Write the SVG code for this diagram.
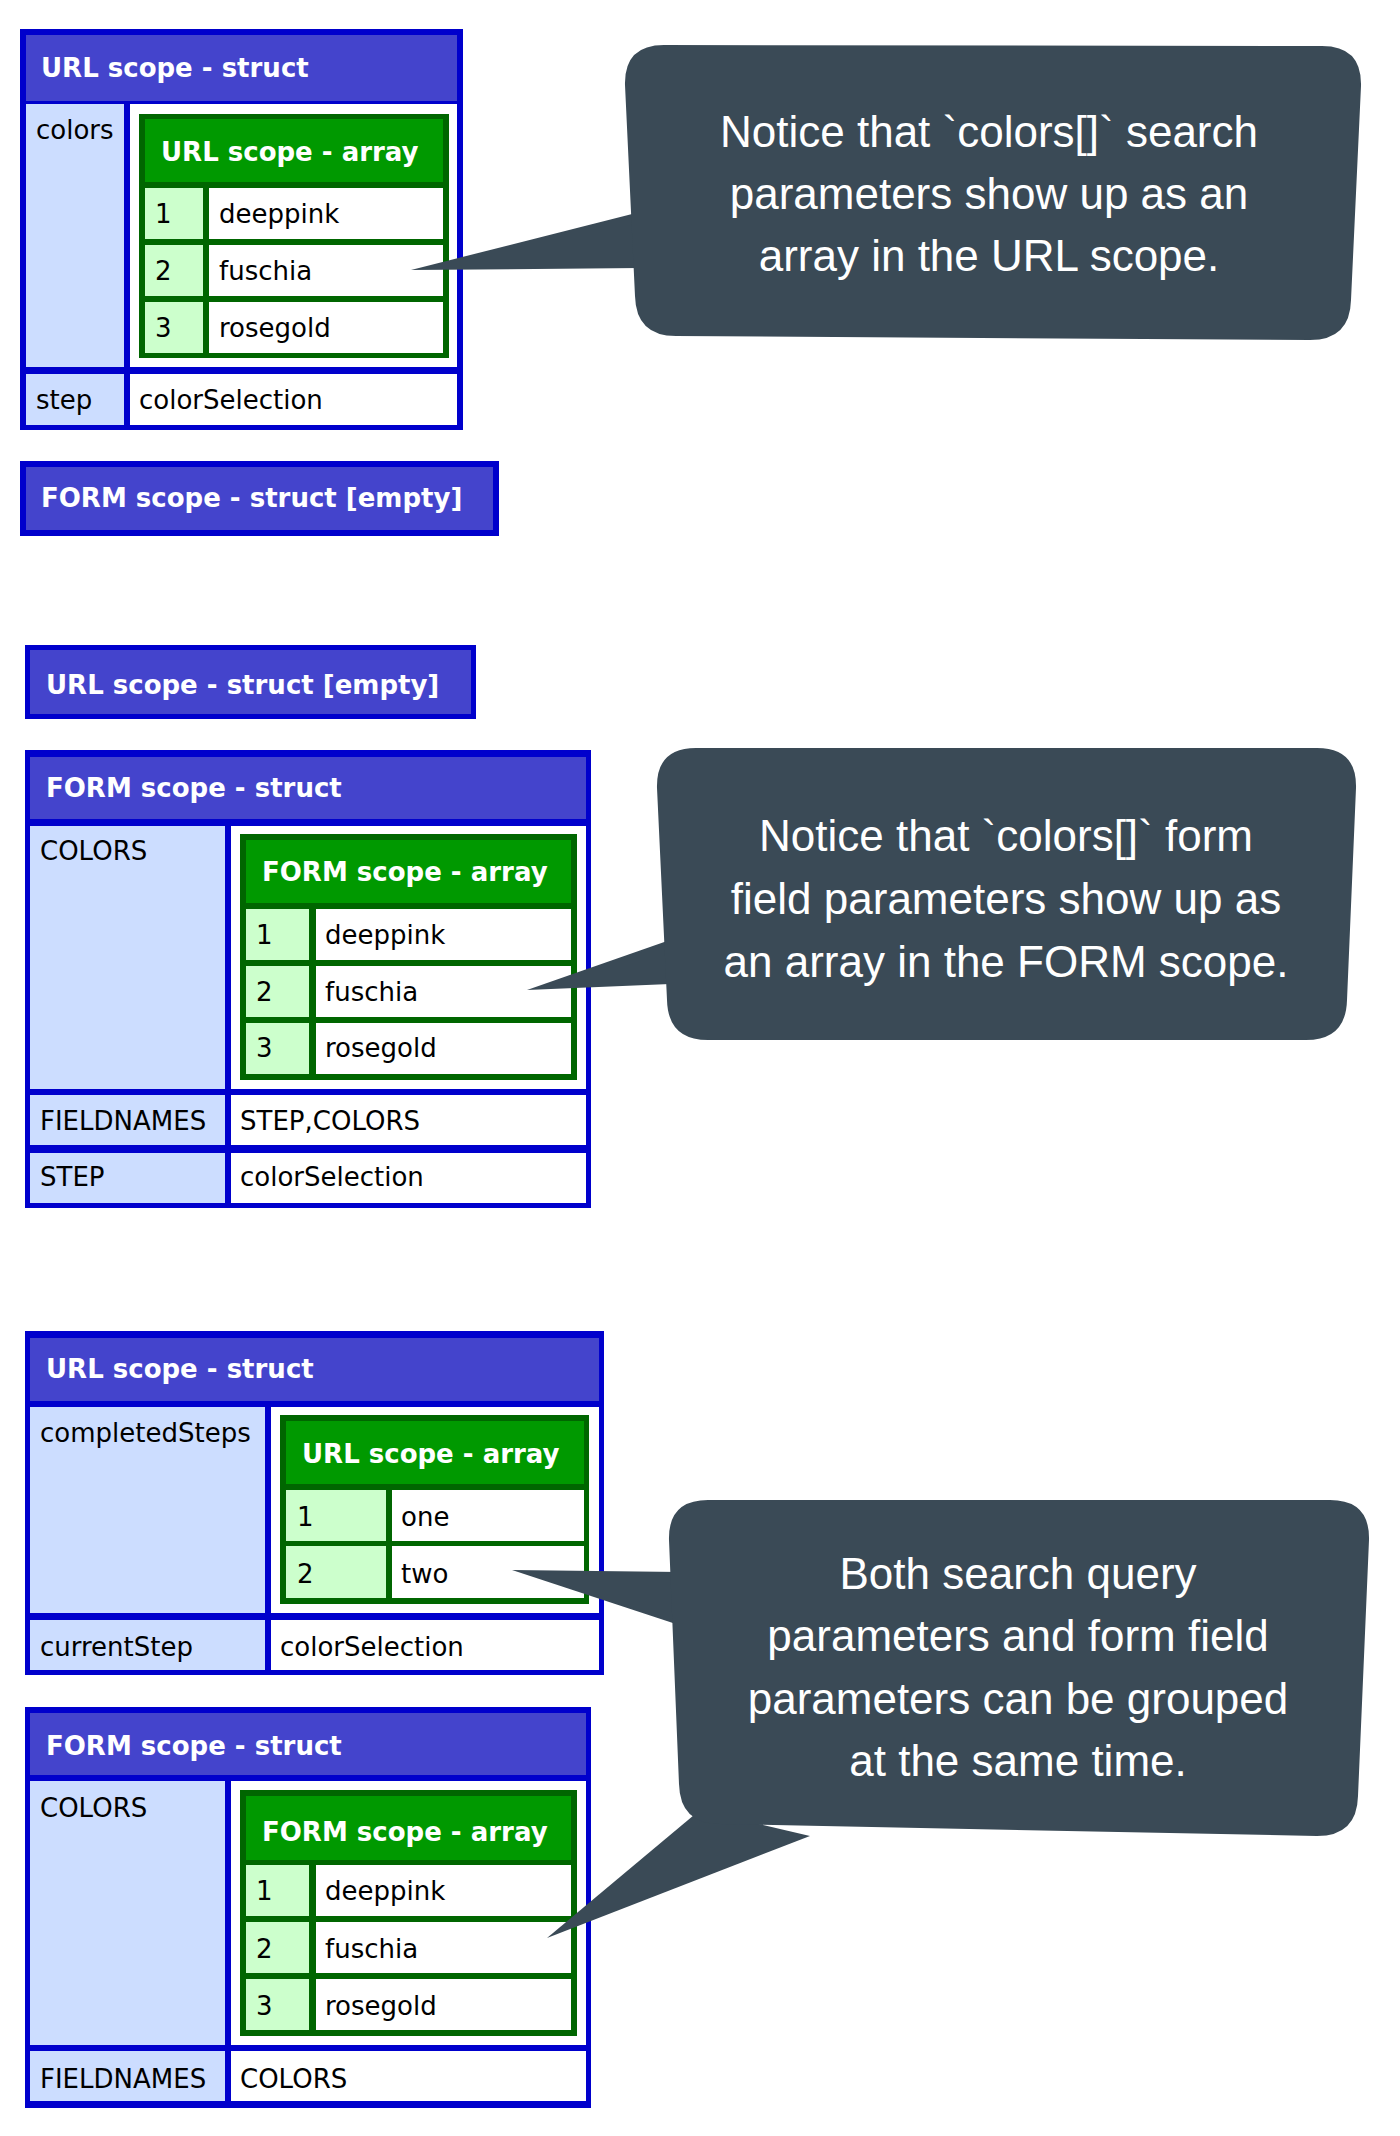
<svg xmlns="http://www.w3.org/2000/svg" width="1400" height="2136" viewBox="0 0 1400 2136">
<style>
.sb{fill:#0000cc}.sh{fill:#4444cc}.k{fill:#ccddff}.v{fill:#ffffff}
.ab{fill:#006600}.ah{fill:#009900}.ak{fill:#ccffcc}
.ht{font-family:"DejaVu Sans",Verdana,sans-serif;font-weight:bold;font-size:26px;fill:#ffffff}
.t{font-family:"DejaVu Sans",Verdana,sans-serif;font-size:26px;fill:#000000}
.bub{fill:#3a4a56}
.ct{font-family:"Liberation Sans",Arial,sans-serif;font-size:44px;fill:#ffffff;text-anchor:middle}
</style>
<rect width="1400" height="2136" fill="#ffffff"/>

<g id="url-struct-1">
<rect class="sb" x="20" y="29" width="443" height="401"/>
<rect class="sh" x="26" y="35" width="431" height="66"/>
<text class="ht" x="41" y="77">URL scope - struct</text>
<rect class="k" x="26" y="104" width="98" height="263"/>
<rect class="v" x="130" y="104" width="327" height="263"/>
<rect class="k" x="26" y="374" width="98" height="51"/>
<rect class="v" x="130" y="374" width="327" height="51"/>
<text class="t" x="36" y="139">colors</text>
<text class="t" x="36" y="409">step</text>
<text class="t" x="139" y="409">colorSelection</text>
<rect class="ab" x="139" y="114" width="310" height="244"/>
<rect class="ah" x="145" y="119" width="298" height="63"/>
<text class="ht" x="161" y="161">URL scope - array</text>
<rect class="ak" x="145" y="188" width="58" height="51"/><rect class="v" x="209" y="188" width="234" height="51"/>
<rect class="ak" x="145" y="245" width="58" height="51"/><rect class="v" x="209" y="245" width="234" height="51"/>
<rect class="ak" x="145" y="302" width="58" height="51"/><rect class="v" x="209" y="302" width="234" height="51"/>
<text class="t" x="155" y="223">1</text><text class="t" x="219" y="223">deeppink</text>
<text class="t" x="155" y="280">2</text><text class="t" x="219" y="280">fuschia</text>
<text class="t" x="155" y="337">3</text><text class="t" x="219" y="337">rosegold</text>
</g>

<g id="form-empty-1">
<rect class="sb" x="20" y="461" width="479" height="75"/>
<rect class="sh" x="26" y="467" width="467" height="63"/>
<text class="ht" x="41" y="507">FORM scope - struct [empty]</text>
</g>

<g id="url-empty-2">
<rect class="sb" x="25" y="645" width="451" height="74"/>
<rect class="sh" x="30" y="650" width="441" height="64"/>
<text class="ht" x="46" y="694">URL scope - struct [empty]</text>
</g>

<g id="form-struct-2">
<rect class="sb" x="25" y="750" width="566" height="458"/>
<rect class="sh" x="30" y="757" width="556" height="62"/>
<text class="ht" x="46" y="797">FORM scope - struct</text>
<rect class="k" x="30" y="826" width="195" height="263"/><rect class="v" x="231" y="826" width="355" height="263"/>
<rect class="k" x="30" y="1095" width="195" height="50"/><rect class="v" x="231" y="1095" width="355" height="50"/>
<rect class="k" x="30" y="1153" width="195" height="50"/><rect class="v" x="231" y="1153" width="355" height="50"/>
<text class="t" x="40" y="860">COLORS</text>
<text class="t" x="40" y="1130">FIELDNAMES</text><text class="t" x="240" y="1130">STEP,COLORS</text>
<text class="t" x="40" y="1186">STEP</text><text class="t" x="240" y="1186">colorSelection</text>
<rect class="ab" x="240" y="834" width="337" height="246"/>
<rect class="ah" x="246" y="840" width="325" height="63"/>
<text class="ht" x="262" y="881">FORM scope - array</text>
<rect class="ak" x="246" y="909" width="63" height="51"/><rect class="v" x="316" y="909" width="255" height="51"/>
<rect class="ak" x="246" y="966" width="63" height="51"/><rect class="v" x="316" y="966" width="255" height="51"/>
<rect class="ak" x="246" y="1023" width="63" height="51"/><rect class="v" x="316" y="1023" width="255" height="51"/>
<text class="t" x="256" y="944">1</text><text class="t" x="325" y="944">deeppink</text>
<text class="t" x="256" y="1001">2</text><text class="t" x="325" y="1001">fuschia</text>
<text class="t" x="256" y="1057">3</text><text class="t" x="325" y="1057">rosegold</text>
</g>

<g id="url-struct-3">
<rect class="sb" x="25" y="1331" width="579" height="344"/>
<rect class="sh" x="30" y="1338" width="569" height="63"/>
<text class="ht" x="46" y="1378">URL scope - struct</text>
<rect class="k" x="30" y="1407" width="235" height="206"/><rect class="v" x="271" y="1407" width="328" height="206"/>
<rect class="k" x="30" y="1620" width="235" height="50"/><rect class="v" x="271" y="1620" width="328" height="50"/>
<text class="t" x="40" y="1442">completedSteps</text>
<text class="t" x="40" y="1656">currentStep</text><text class="t" x="280" y="1656">colorSelection</text>
<rect class="ab" x="280" y="1415" width="309" height="189"/>
<rect class="ah" x="286" y="1421" width="298" height="63"/>
<text class="ht" x="302" y="1463">URL scope - array</text>
<rect class="ak" x="286" y="1490" width="100" height="51"/><rect class="v" x="392" y="1490" width="192" height="51"/>
<rect class="ak" x="286" y="1546" width="100" height="52"/><rect class="v" x="392" y="1546" width="192" height="52"/>
<text class="t" x="297" y="1526">1</text><text class="t" x="401" y="1526">one</text>
<text class="t" x="297" y="1583">2</text><text class="t" x="401" y="1583">two</text>
</g>

<g id="form-struct-3">
<rect class="sb" x="25" y="1707" width="566" height="401"/>
<rect class="sh" x="30" y="1713" width="556" height="62"/>
<text class="ht" x="46" y="1755">FORM scope - struct</text>
<rect class="k" x="30" y="1781" width="195" height="264"/><rect class="v" x="231" y="1781" width="355" height="264"/>
<rect class="k" x="30" y="2051" width="195" height="50"/><rect class="v" x="231" y="2051" width="355" height="50"/>
<text class="t" x="40" y="1817">COLORS</text>
<text class="t" x="40" y="2088">FIELDNAMES</text><text class="t" x="240" y="2088">COLORS</text>
<rect class="ab" x="240" y="1790" width="337" height="246"/>
<rect class="ah" x="246" y="1796" width="325" height="64"/>
<text class="ht" x="262" y="1841">FORM scope - array</text>
<rect class="ak" x="246" y="1865" width="63" height="51"/><rect class="v" x="316" y="1865" width="255" height="51"/>
<rect class="ak" x="246" y="1922" width="63" height="51"/><rect class="v" x="316" y="1922" width="255" height="51"/>
<rect class="ak" x="246" y="1979" width="63" height="51"/><rect class="v" x="316" y="1979" width="255" height="51"/>
<text class="t" x="256" y="1900">1</text><text class="t" x="325" y="1900">deeppink</text>
<text class="t" x="256" y="1958">2</text><text class="t" x="325" y="1958">fuschia</text>
<text class="t" x="256" y="2015">3</text><text class="t" x="325" y="2015">rosegold</text>
</g>

<g id="connectors">
<polygon class="bub" points="640,212 411,270 640,268"/>
<polygon class="bub" points="670,940 527,990 670,984"/>
<polygon class="bub" points="680,1572 512,1570 682,1626"/>
<polygon class="bub" points="700,1810 547,1938 810,1836"/>
</g>

<g id="callout-1">
<path class="bub" d="M664,45 L1322,46 Q1362,46 1361,86 L1351,300 Q1350,340 1310,340 L676,336 Q636,336 635,296 L625,85 Q624,45 664,45 Z"/>
<text class="ct" x="989" y="147">Notice that `colors[]` search</text>
<text class="ct" x="989" y="209">parameters show up as an</text>
<text class="ct" x="989" y="271">array in the URL scope.</text>
</g>

<g id="callout-2">
<path class="bub" d="M696,748 L1317,748 Q1357,748 1356,788 L1347,1000 Q1346,1040 1306,1040 L708,1040 Q668,1040 667,1000 L657,788 Q656,748 696,748 Z"/>
<text class="ct" x="1006" y="851">Notice that `colors[]` form</text>
<text class="ct" x="1006" y="914">field parameters show up as</text>
<text class="ct" x="1006" y="977">an array in the FORM scope.</text>
</g>

<g id="callout-3">
<path class="bub" d="M708,1500 L1330,1500 Q1370,1500 1369,1540 L1358,1796 Q1357,1836 1317,1836 L720,1824 Q680,1824 679,1784 L669,1540 Q668,1500 708,1500 Z"/>
<text class="ct" x="1018" y="1589">Both search query</text>
<text class="ct" x="1018" y="1651">parameters and form field</text>
<text class="ct" x="1018" y="1714">parameters can be grouped</text>
<text class="ct" x="1018" y="1776">at the same time.</text>
</g>
</svg>
